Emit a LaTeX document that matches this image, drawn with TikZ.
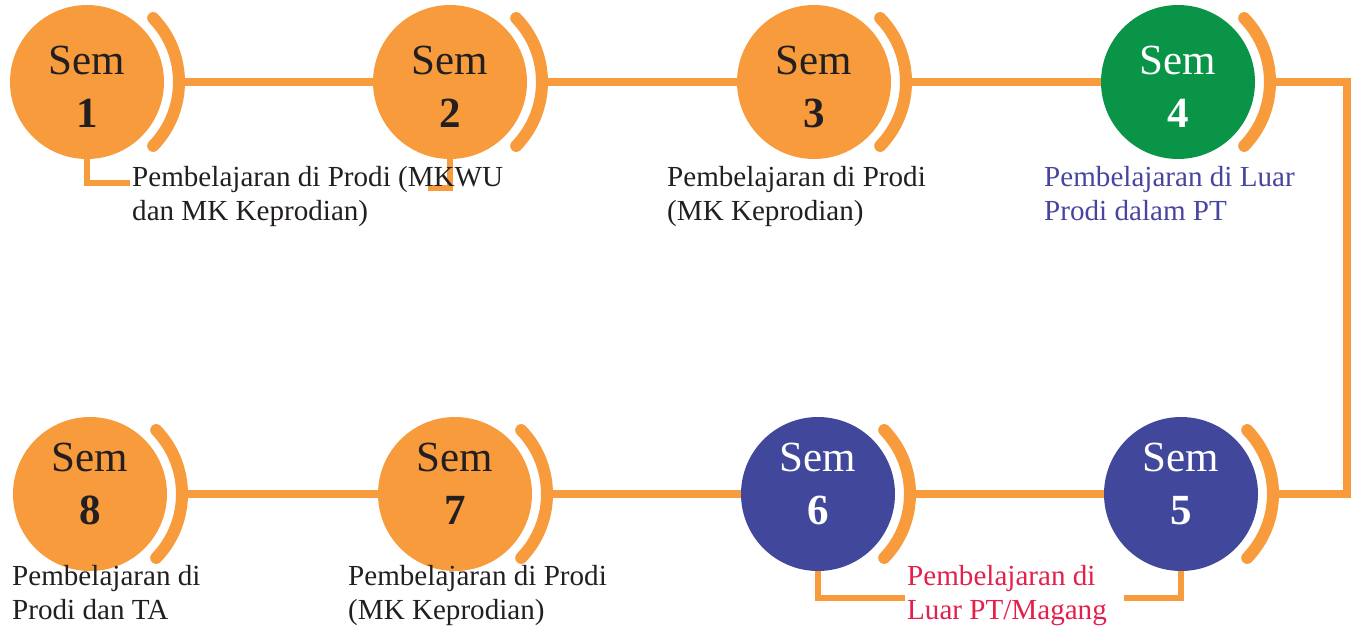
\documentclass[tikz,border=0pt]{standalone}
\usepackage{fontspec}
\setmainfont{Liberation Serif}
\definecolor{semorange}{HTML}{F79B3D}
\definecolor{semgreen}{HTML}{0A9447}
\definecolor{semnavy}{HTML}{41479B}
\definecolor{semdark}{HTML}{231F20}
\definecolor{descpurple}{HTML}{4845A0}
\definecolor{descred}{HTML}{E3204B}
\begin{document}
\begin{tikzpicture}[x=1pt,y=-1pt,
  sem/.style={circle, fill=#1, minimum size=154pt, inner sep=0pt},
  semtxt/.style={align=center, inner sep=0pt, font=\fontsize{43}{53}\selectfont, text=#1},
  ring/.style={draw=semorange, line width=12pt, line cap=round},
  link/.style={draw=semorange, line width=8pt},
  drop/.style={draw=semorange, line width=5.5pt},
  desc/.style={anchor=north west, align=left, inner sep=0pt, font=\fontsize{29.1}{34.5}\selectfont, text=#1}]
\useasboundingbox (0,0) rectangle (1352,626);

% coordinates of free ends / corners
\coordinate (k1) at (1347,82);
\coordinate (k2) at (1347,494);
\coordinate (d1) at (130,183);
\coordinate (d2) at (428,188);
\coordinate (d6) at (905,598);
\coordinate (d5) at (1124,598);

% circles
\node[sem=semorange] (c1) at (87,82) {};
\node[sem=semorange] (c2) at (450,82) {};
\node[sem=semorange] (c3) at (814,82) {};
\node[sem=semgreen]  (c4) at (1178,82) {};
\node[sem=semnavy]   (c5) at (1181,494) {};
\node[sem=semnavy]   (c6) at (818,494) {};
\node[sem=semorange] (c7) at (455,494) {};
\node[sem=semorange] (c8) at (90,494) {};

% drop connectors
\draw[drop] (c1.south) |- (d1);
\draw[drop] (c2.south) |- (d2);
\draw[drop] (c6.south) |- (d6);
\draw[drop] (c5.south) |- (d5);

% main connectors
\draw[link] ([xshift=96pt]c1.center) -- (c2.west);
\draw[link] ([xshift=96pt]c2.center) -- (c3.west);
\draw[link] ([xshift=96pt]c3.center) -- (c4.west);
\draw[link] ([xshift=96pt]c4.center) -- (k1) -- (k2) -- ([xshift=96pt]c5.center);
\draw[link] ([xshift=96pt]c6.center) -- (c5.west);
\draw[link] ([xshift=96pt]c7.center) -- (c6.west);
\draw[link] ([xshift=96pt]c8.center) -- (c7.west);

% rings
\foreach \c in {c1,c2,c3,c4,c5,c6,c7,c8}{
  \draw[ring] ([shift={(-44:92)}]\c.center) arc[start angle=-44, end angle=44, radius=92];
}

% circle texts
\node[semtxt=semdark, yshift=-5pt] (s1) at (c1) {Sem\\\textbf{1}};
\node[semtxt=semdark, yshift=-5pt] (s2) at (c2) {Sem\\\textbf{2}};
\node[semtxt=semdark, yshift=-5pt] (s3) at (c3) {Sem\\\textbf{3}};
\node[semtxt=white, yshift=-5pt] (s4) at (c4) {Sem\\\textbf{4}};
\node[semtxt=white, yshift=10pt] (s5) at (c5) {Sem\\\textbf{5}};
\node[semtxt=white, yshift=10pt] (s6) at (c6) {Sem\\\textbf{6}};
\node[semtxt=semdark, yshift=10pt] (s7) at (c7) {Sem\\\textbf{7}};
\node[semtxt=semdark, yshift=10pt] (s8) at (c8) {Sem\\\textbf{8}};

% descriptions
\node[desc=semdark] (p1) at (132,166) {Pembelajaran di Prodi (MKWU\\dan MK Keprodian)};
\node[desc=semdark] (p3) at (667,166) {Pembelajaran di Prodi\\(MK Keprodian)};
\node[desc=descpurple] (p4) at (1044,166) {Pembelajaran di Luar\\Prodi dalam PT};
\node[desc=semdark] (p8) at (12,565) {Pembelajaran di\\Prodi dan TA};
\node[desc=semdark] (p7) at (348,565) {Pembelajaran di Prodi\\(MK Keprodian)};
\node[desc=descred] (p6) at (907,565) {Pembelajaran di\\Luar PT/Magang};
\end{tikzpicture}
\end{document}
